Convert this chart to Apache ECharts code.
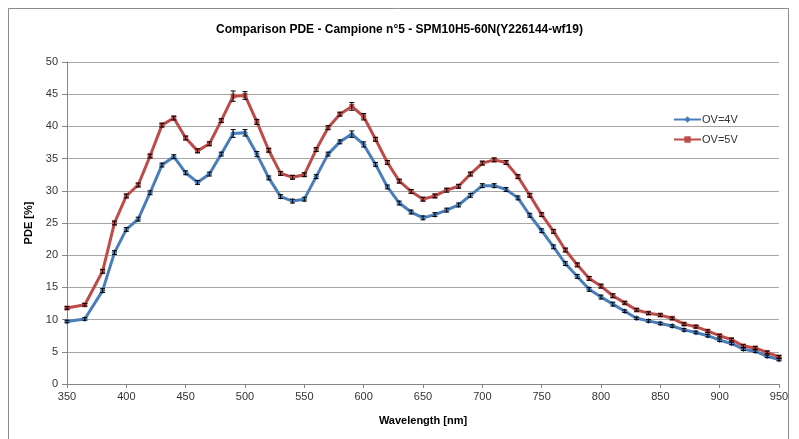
<!DOCTYPE html>
<html>
<head>
<meta charset="utf-8">
<script src="https://cdn.jsdelivr.net/npm/echarts@6/dist/echarts.min.js"></script>
<style>
html,body{margin:0;padding:0;background:#fff;}
#c{width:799px;height:439px;}
</style>
</head>
<body>
<div id="c"></div>
<script>
const wavelengths = [350,365,380,390,400,410,420,430,440,450,460,470,480,490,500,510,520,530,540,550,560,570,580,590,600,610,620,630,640,650,660,670,680,690,700,710,720,730,740,750,760,770,780,790,800,810,820,830,840,850,860,870,880,890,900,910,920,930,940,950];
const ov4 = [9.7,10.1,14.5,20.4,24.0,25.6,29.7,34.0,35.3,32.8,31.3,32.6,35.7,38.9,39.0,35.7,32.0,29.1,28.4,28.7,32.2,35.7,37.6,38.8,37.2,34.1,30.6,28.1,26.7,25.8,26.3,27.0,27.8,29.3,30.8,30.8,30.2,28.9,26.2,23.8,21.3,18.7,16.7,14.7,13.5,12.4,11.3,10.2,9.8,9.4,9.0,8.4,8.0,7.5,6.8,6.3,5.4,5.1,4.3,3.8];
const ov5 = [11.8,12.3,17.5,25.0,29.2,30.9,35.4,40.2,41.3,38.2,36.2,37.3,40.9,44.7,44.8,40.7,36.3,32.7,32.1,32.5,36.4,39.8,41.9,43.1,41.5,38.0,34.4,31.5,29.9,28.7,29.2,30.1,30.7,32.6,34.3,34.8,34.4,32.2,29.3,26.3,23.7,20.8,18.5,16.4,15.2,13.7,12.6,11.5,11.0,10.7,10.2,9.3,8.9,8.2,7.5,6.9,5.9,5.6,4.9,4.2];
const err4 = [0.2,0.2,0.3,0.3,0.3,0.3,0.3,0.3,0.3,0.3,0.3,0.3,0.3,0.6,0.5,0.4,0.3,0.3,0.3,0.3,0.3,0.3,0.3,0.5,0.4,0.3,0.3,0.3,0.3,0.3,0.3,0.3,0.3,0.3,0.3,0.3,0.3,0.3,0.3,0.3,0.3,0.3,0.3,0.3,0.3,0.3,0.2,0.2,0.2,0.2,0.2,0.2,0.2,0.2,0.2,0.2,0.2,0.2,0.2,0.2];
const err5 = [0.2,0.2,0.3,0.3,0.3,0.3,0.3,0.3,0.3,0.3,0.3,0.3,0.3,0.8,0.6,0.4,0.3,0.3,0.3,0.3,0.3,0.3,0.3,0.6,0.5,0.3,0.3,0.3,0.3,0.3,0.3,0.3,0.3,0.3,0.3,0.3,0.3,0.3,0.3,0.3,0.3,0.3,0.3,0.3,0.3,0.3,0.2,0.2,0.2,0.2,0.2,0.2,0.2,0.2,0.2,0.2,0.2,0.2,0.2,0.2];
const seriesNames = ['OV=4V','OV=5V'];
const yTicks = [0,5,10,15,20,25,30,35,40,45,50];
const xTicks = [350,400,450,500,550,600,650,700,750,800,850,900,950];

const FONT = 'Liberation Sans, Arial, sans-serif';
const BLUE = '#4a7ebb';
const RED = '#be4b48';

function pairs(vals){ return wavelengths.map((w,i)=>[w, vals[i]]); }
function errData(vals, errs){ return wavelengths.map((w,i)=>[w, vals[i]-errs[i], vals[i]+errs[i]]); }
function errRender(params, api){
  const x = api.value(0);
  const lo = api.coord([x, api.value(1)]);
  const hi = api.coord([x, api.value(2)]);
  const hw = 2.5;
  const st = {stroke:'#000', lineWidth:1};
  return {type:'group', children:[
    {type:'line', shape:{x1:lo[0],y1:lo[1],x2:hi[0],y2:hi[1]}, style:st},
    {type:'line', shape:{x1:lo[0]-hw,y1:lo[1],x2:lo[0]+hw,y2:lo[1]}, style:st},
    {type:'line', shape:{x1:hi[0]-hw,y1:hi[1],x2:hi[0]+hw,y2:hi[1]}, style:st}
  ]};
}

const chart = echarts.init(document.getElementById('c'), null, {renderer:'canvas'});
chart.setOption({
  animation:false,
  backgroundColor:'#fff',
  title:{
    text:'Comparison PDE - Campione n°5 - SPM10H5-60N(Y226144-wf19)',
    left:'center', top:19,
    textStyle:{fontFamily:FONT, fontSize:12, fontWeight:'bold', color:'#000'}
  },
  graphic:[{
    type:'rect', shape:{x:8.5,y:8.5,width:780,height:450},
    style:{fill:null, stroke:'#8c8c8c', lineWidth:1}, silent:true
  }],
  legend:{
    orient:'vertical', left:668, top:109, itemGap:9,
    itemWidth:27, itemHeight:8,
    textStyle:{fontFamily:FONT, fontSize:11, color:'#333', padding:[0,0,0,-4]},
    data:[{name:seriesNames[0]},{name:seriesNames[1]}]
  },
  grid:{left:67, right:20, top:62, bottom:55, containLabel:false},
  xAxis:{
    type:'value', min:350, max:950, interval:50,
    name:'Wavelength [nm]', nameLocation:'middle', nameGap:31,
    nameTextStyle:{fontFamily:FONT, fontSize:11, fontWeight:'bold', color:'#000'},
    axisLine:{lineStyle:{color:'#868686'}},
    axisTick:{show:true, length:4, lineStyle:{color:'#868686'}},
    axisLabel:{fontFamily:FONT, fontSize:11, color:'#333', margin:7,
      formatter:v=>xTicks.includes(v)?String(v):''},
    splitLine:{show:false}
  },
  yAxis:{
    type:'value', min:0, max:50, interval:5,
    name:'PDE [%]', nameLocation:'middle', nameGap:27, nameRotate:90,
    nameTextStyle:{fontFamily:FONT, fontSize:11, fontWeight:'bold', color:'#000'},
    axisLine:{show:true, lineStyle:{color:'#868686'}},
    axisTick:{show:true, length:5, lineStyle:{color:'#868686'}},
    axisLabel:{fontFamily:FONT, fontSize:11, color:'#333', margin:9,
      formatter:v=>yTicks.includes(v)?String(v):''},
    splitLine:{show:true, lineStyle:{color:'#a6a6a6', width:1}}
  },
  series:[
    {name:seriesNames[0], type:'line', data:pairs(ov4), symbol:'diamond', symbolSize:6,
      lineStyle:{color:BLUE, width:3}, itemStyle:{color:BLUE}, z:3},
    {name:seriesNames[1], type:'line', data:pairs(ov5), symbol:'rect', symbolSize:5,
      lineStyle:{color:RED, width:3}, itemStyle:{color:RED}, z:3},
    {type:'custom', data:errData(ov4, err4), renderItem:errRender, z:5, silent:true, encode:{x:0,y:[1,2]}},
    {type:'custom', data:errData(ov5, err5), renderItem:errRender, z:5, silent:true, encode:{x:0,y:[1,2]}}
  ]
});
</script>
</body>
</html>
